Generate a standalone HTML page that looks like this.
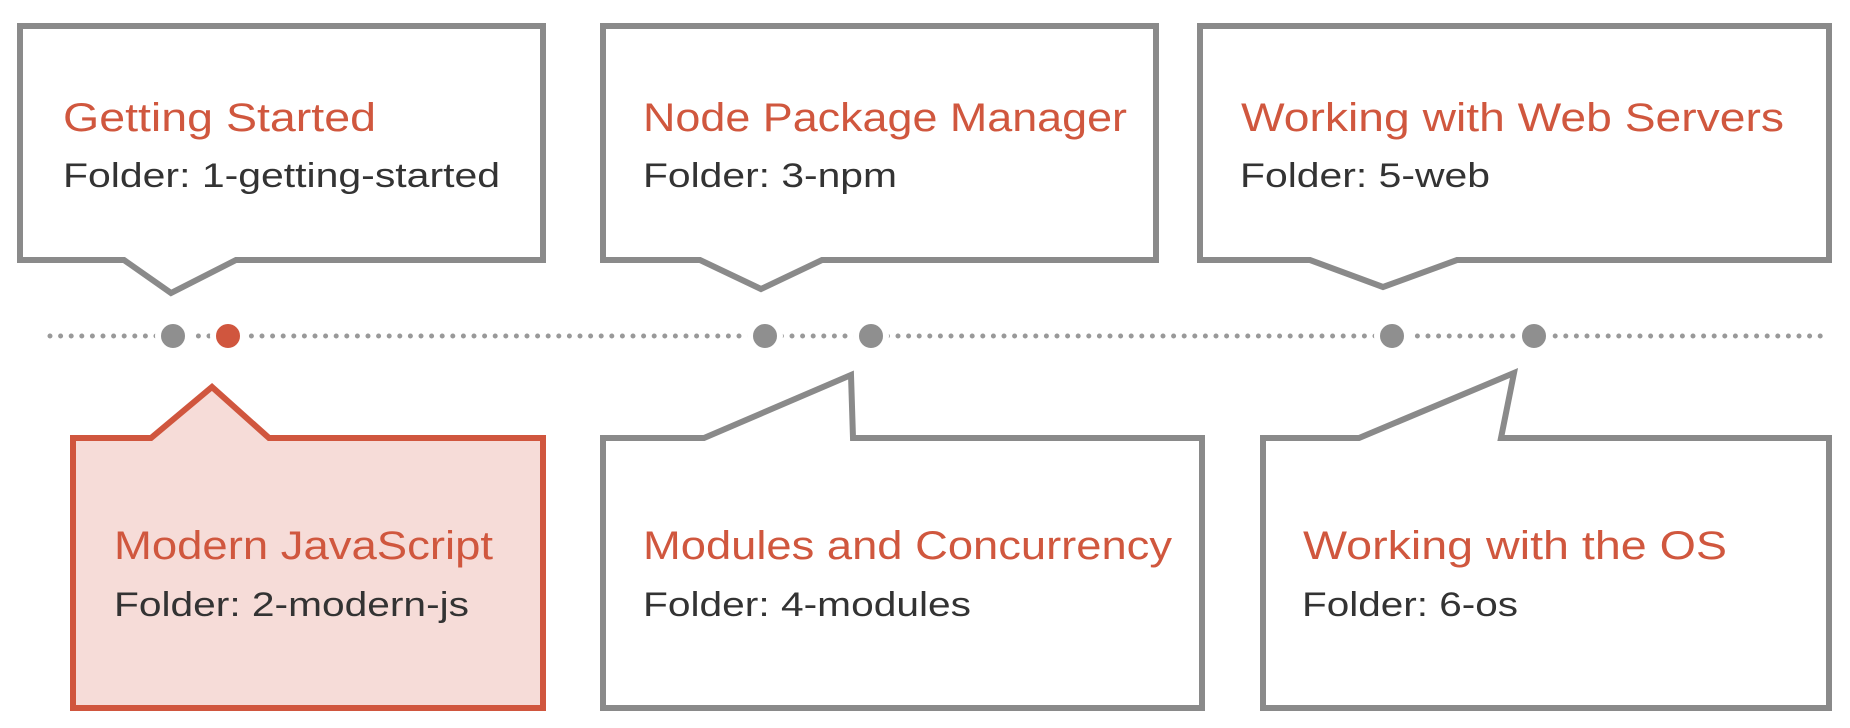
<!DOCTYPE html>
<html><head><meta charset="utf-8"><style>
html,body{margin:0;padding:0;background:#fff;}
svg{display:block}
.t{font-family:"Liberation Sans",sans-serif;font-size:40px;fill:#d0573e;}
.f{font-family:"Liberation Sans",sans-serif;font-size:34px;fill:#333;}
</style></head><body>
<svg width="1850" height="728" viewBox="0 0 1850 728" xmlns="http://www.w3.org/2000/svg">
<g fill="#fff" stroke="#8a8a8a" stroke-width="6" stroke-linejoin="miter">
<path d="M20,26 H543 V260 H236 L171,293 L124,260 H20 Z"/>
<path d="M603,26 H1156 V260 H822 L761,289 L700,260 H603 Z"/>
<path d="M1200,26 H1829 V260 H1457 L1383,287 L1310,260 H1200 Z"/>
<path d="M603,438 H704 L851,375 L853,438 H1202 V708 H603 Z"/>
<path d="M1263,438 H1359 L1514,373 L1501,438 H1829 V708 H1263 Z"/>
</g>
<path d="M73,438 H151 L212,387 L269,438 H543 V708 H73 Z" fill="#f6dcd8" stroke="#d0563e" stroke-width="6"/>
<line x1="50" y1="336" x2="1823" y2="336" stroke="#999" stroke-width="5" stroke-linecap="round" stroke-dasharray="0 10.6"/>
<g stroke="#fff" stroke-width="6">
<circle cx="173" cy="336" r="15" fill="#8f8f8f"/>
<circle cx="228" cy="336" r="15" fill="#d0563e"/>
<circle cx="765" cy="336" r="15" fill="#8f8f8f"/>
<circle cx="871" cy="336" r="15" fill="#8f8f8f"/>
<circle cx="1392" cy="336" r="15" fill="#8f8f8f"/>
<circle cx="1534" cy="336" r="15" fill="#8f8f8f"/>
</g>
<text class="t" x="63" y="131" textLength="313" lengthAdjust="spacingAndGlyphs">Getting Started</text>
<text class="f" x="63" y="187" textLength="437" lengthAdjust="spacingAndGlyphs">Folder: 1-getting-started</text>
<text class="t" x="643" y="131" textLength="484" lengthAdjust="spacingAndGlyphs">Node Package Manager</text>
<text class="f" x="643" y="187" textLength="254" lengthAdjust="spacingAndGlyphs">Folder: 3-npm</text>
<text class="t" x="1241" y="131" textLength="543" lengthAdjust="spacingAndGlyphs">Working with Web Servers</text>
<text class="f" x="1240" y="187" textLength="250" lengthAdjust="spacingAndGlyphs">Folder: 5-web</text>
<text class="t" x="114" y="559" textLength="379" lengthAdjust="spacingAndGlyphs">Modern JavaScript</text>
<text class="f" x="114" y="616" textLength="355" lengthAdjust="spacingAndGlyphs">Folder: 2-modern-js</text>
<text class="t" x="643" y="559" textLength="529" lengthAdjust="spacingAndGlyphs">Modules and Concurrency</text>
<text class="f" x="643" y="616" textLength="328" lengthAdjust="spacingAndGlyphs">Folder: 4-modules</text>
<text class="t" x="1303" y="559" textLength="424" lengthAdjust="spacingAndGlyphs">Working with the OS</text>
<text class="f" x="1302" y="616" textLength="216" lengthAdjust="spacingAndGlyphs">Folder: 6-os</text>
</svg>
</body></html>
